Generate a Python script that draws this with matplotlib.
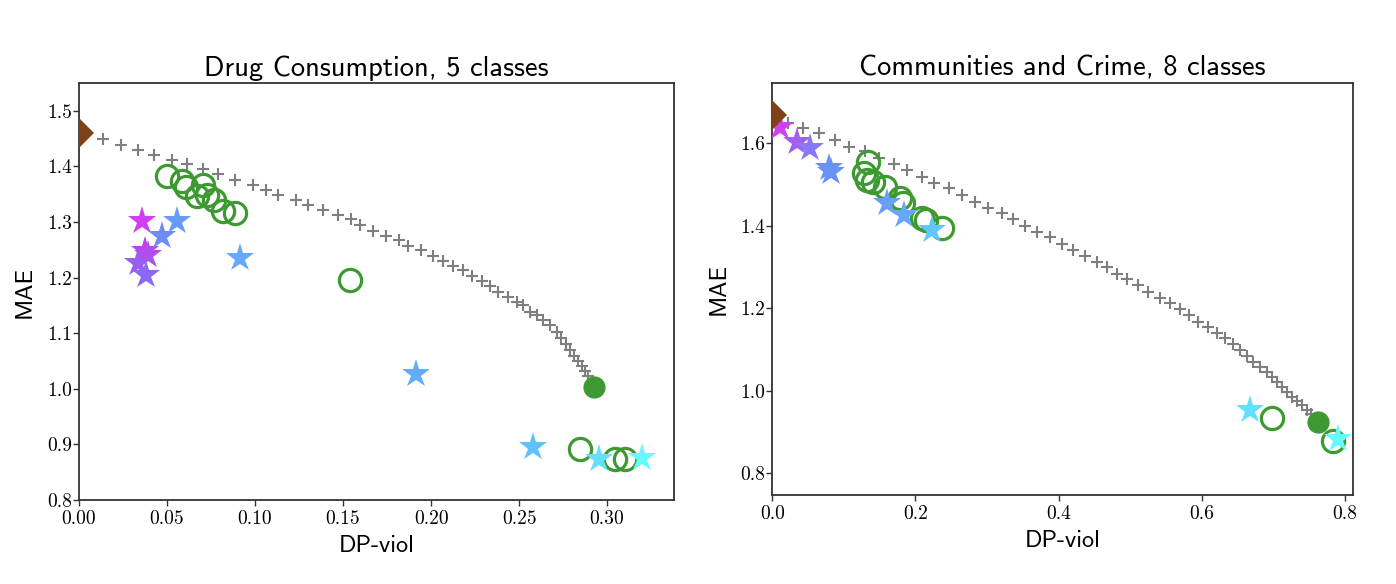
import matplotlib
matplotlib.use("Agg")
import matplotlib.pyplot as plt

# ---------------- Drug Consumption, 5 classes ----------------
drug_curve_x = [0.0138, 0.0237, 0.0335, 0.0428, 0.0528, 0.0612, 0.0703, 0.0791, 0.0886, 0.0987,
                0.1063, 0.1132, 0.1233, 0.1303, 0.1388, 0.1470, 0.1544, 0.1597, 0.1669, 0.1744,
                0.1820, 0.1871, 0.1941, 0.2010, 0.2070, 0.2127, 0.2184, 0.2231, 0.2288, 0.2335,
                0.2382, 0.2439, 0.2487, 0.2521, 0.2563, 0.2601, 0.2638, 0.2676, 0.2714, 0.2739,
                0.2767, 0.2790, 0.2813, 0.2835, 0.2855, 0.2875, 0.2892]
drug_curve_y = [1.449, 1.439, 1.430, 1.421, 1.412, 1.404, 1.396, 1.387, 1.376, 1.367,
                1.358, 1.349, 1.340, 1.331, 1.322, 1.312, 1.306, 1.295, 1.284, 1.275,
                1.268, 1.257, 1.250, 1.239, 1.230, 1.220, 1.214, 1.202, 1.194, 1.184,
                1.175, 1.166, 1.157, 1.150, 1.139, 1.132, 1.123, 1.114, 1.103, 1.092,
                1.081, 1.070, 1.059, 1.050, 1.041, 1.032, 1.023]
drug_base_x = [0.0]
drug_base_y = [1.460]
drug_opt_x = [0.2928]
drug_opt_y = [1.003]
drug_circ_x = [0.0498, 0.0584, 0.0608, 0.0706, 0.0669, 0.0726, 0.0767, 0.0820, 0.0886,
               0.1540, 0.2847, 0.3045, 0.3102]
drug_circ_y = [1.383, 1.374, 1.363, 1.367, 1.346, 1.349, 1.339, 1.320, 1.316,
               1.196, 0.891, 0.873, 0.873]
drug_star_x = [0.0356, 0.0375, 0.0394, 0.0337, 0.0381, 0.0470, 0.0555, 0.0915, 0.1915,
               0.2581, 0.2955, 0.3197]
drug_star_y = [1.301, 1.247, 1.241, 1.226, 1.205, 1.274, 1.301, 1.235, 1.027,
               0.895, 0.873, 0.875]
drug_star_colors = ['#d23ef2', '#c040ee', '#b24ef0', '#9b5cf2', '#8a6af4', '#6e8cf5',
                    '#6a9af7', '#66a8fa', '#62acfb', '#60c2fd', '#66e0ff', '#66fbff']

# ---------------- Communities and Crime, 8 classes ----------------
crime_curve_x = [0.0224, 0.0433, 0.0657, 0.0876, 0.1076, 0.1295, 0.1495, 0.1704, 0.1877, 0.2087,
                 0.2259, 0.2472, 0.2646, 0.2831, 0.3017, 0.3204, 0.3366, 0.3530, 0.3702, 0.3879,
                 0.4043, 0.4205, 0.4368, 0.4531, 0.4671, 0.4811, 0.4950, 0.5113, 0.5252, 0.5416,
                 0.5555, 0.5695, 0.5825, 0.5951, 0.6090, 0.6208, 0.6324, 0.6440, 0.6533, 0.6627,
                 0.6719, 0.6812, 0.6906, 0.6976, 0.7046, 0.7116, 0.7185, 0.7255, 0.7325, 0.7395,
                 0.7465, 0.7525]
crime_curve_y = [1.650, 1.636, 1.624, 1.608, 1.592, 1.581, 1.565, 1.549, 1.535, 1.519,
                 1.504, 1.491, 1.475, 1.458, 1.444, 1.430, 1.416, 1.399, 1.385, 1.372,
                 1.356, 1.341, 1.326, 1.313, 1.299, 1.284, 1.272, 1.256, 1.240, 1.226,
                 1.212, 1.198, 1.183, 1.167, 1.155, 1.140, 1.127, 1.113, 1.098, 1.084,
                 1.070, 1.058, 1.045, 1.033, 1.021, 1.009, 0.997, 0.985, 0.975, 0.965,
                 0.953, 0.943]
crime_base_x = [0.0]
crime_base_y = [1.669]
crime_opt_x = [0.763]
crime_opt_y = [0.924]
crime_circ_x = [0.134, 0.128, 0.133, 0.141, 0.157, 0.178, 0.183, 0.209, 0.215, 0.237,
                0.698, 0.783]
crime_circ_y = [1.555, 1.528, 1.511, 1.507, 1.495, 1.467, 1.454, 1.418, 1.414, 1.394,
                0.934, 0.878]
crime_star_x = [0.0108, 0.034, 0.0527, 0.079, 0.082, 0.1598, 0.1843, 0.2227, 0.667, 0.791]
crime_star_y = [1.640, 1.604, 1.588, 1.540, 1.530, 1.454, 1.426, 1.390, 0.954, 0.884]
crime_star_colors = ['#d040f0', '#a060f2', '#8878f4', '#6a90f6', '#6a92f6', '#68a0f8',
                     '#64a8fa', '#60c8fc', '#62e0fe', '#66fbff']

drug_xticks = [0.00, 0.05, 0.10, 0.15, 0.20, 0.25, 0.30]
drug_yticks = [0.8, 0.9, 1.0, 1.1, 1.2, 1.3, 1.4, 1.5]
crime_xticks = [0.0, 0.2, 0.4, 0.6, 0.8]
crime_yticks = [0.8, 1.0, 1.2, 1.4, 1.6]

GREEN = '#3d9a30'
BROWN = '#7f4216'
GRAY = '#7f7f7f'

fig = plt.figure(figsize=(13.96, 5.84), dpi=100)
ax1 = fig.add_axes([0.0566, 0.1438, 0.4262, 0.7141])
ax2 = fig.add_axes([0.5532, 0.1524, 0.4158, 0.7060])


def draw(ax, cx, cy, bx, by, ox, oy, ccx, ccy, sx, sy, scol):
    ax.plot(cx, cy, linestyle='none', marker='+', ms=9, mew=1.5, color=GRAY, zorder=2)
    ax.plot(ccx, ccy, linestyle='none', marker='o', ms=16, mfc='none', mec=GREEN, mew=2.3, zorder=3)
    for x, y, c in zip(sx, sy, scol):
        ax.plot([x], [y], linestyle='none', marker='*', ms=21, color=c, mew=0, zorder=4)
    ax.plot(bx, by, linestyle='none', marker='D', ms=15, color=BROWN, mew=0, zorder=5)
    ax.plot(ox, oy, linestyle='none', marker='o', ms=16, color=GREEN, mew=0, zorder=5)


draw(ax1, drug_curve_x, drug_curve_y, drug_base_x, drug_base_y, drug_opt_x, drug_opt_y,
     drug_circ_x, drug_circ_y, drug_star_x, drug_star_y, drug_star_colors)
draw(ax2, crime_curve_x, crime_curve_y, crime_base_x, crime_base_y, crime_opt_x, crime_opt_y,
     crime_circ_x, crime_circ_y, crime_star_x, crime_star_y, crime_star_colors)

ax1.set_xlim(0, 0.338)
ax1.set_ylim(0.8, 1.55)
ax2.set_xlim(0, 0.811)
ax2.set_ylim(0.747, 1.747)

ax1.set_xticks(drug_xticks)
ax1.set_xticklabels([f'{v:.2f}' for v in drug_xticks])
ax1.set_yticks(drug_yticks)
ax1.set_yticklabels([f'{v:.1f}' for v in drug_yticks])
ax2.set_xticks(crime_xticks)
ax2.set_xticklabels([f'{v:.1f}' for v in crime_xticks])
ax2.set_yticks(crime_yticks)
ax2.set_yticklabels([f'{v:.1f}' for v in crime_yticks])

ax1.set_title('Drug Consumption, 5 classes', fontfamily='cmss10', fontsize=20.5, pad=5)
ax2.set_title('Communities and Crime, 8 classes', fontfamily='cmss10', fontsize=20.5, pad=5)

for ax in (ax1, ax2):
    ax.set_xlabel('DP-viol', fontfamily='cmss10', fontsize=17.5, labelpad=5)
    ax.set_ylabel('MAE', fontfamily='cmss10', fontsize=17.5, labelpad=8)
    ax.tick_params(length=4, width=1, pad=1, labelsize=14, color='#333333')
    ax.tick_params(axis='x', pad=3.5)
    for lab in ax.get_xticklabels() + ax.get_yticklabels():
        lab.set_fontfamily('cmr10')
    for sp in ax.spines.values():
        sp.set_linewidth(1.3)
        sp.set_color('#333333')

fig.savefig('out.png', dpi=100)
